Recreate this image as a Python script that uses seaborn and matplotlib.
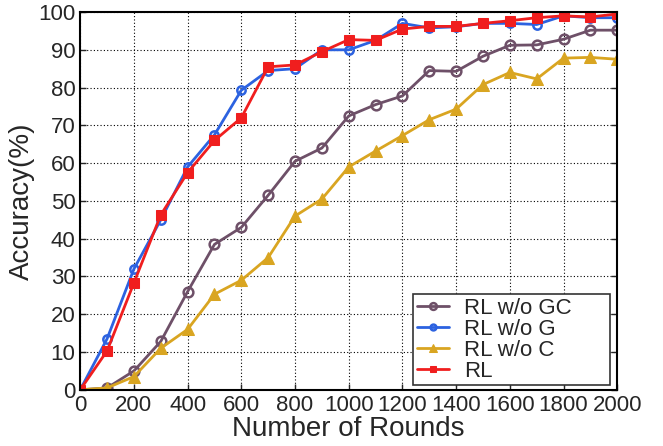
import matplotlib
matplotlib.use("Agg")
import matplotlib.pyplot as plt
import pandas as pd
import seaborn as sns

rounds = list(range(0, 2001, 100))
acc_wo_gc = [0, 0.5, 5, 12.8, 26, 38.5, 43, 51.5, 60.5, 64, 72.5, 75.5, 77.8, 84.5, 84.3, 88.3, 91.2, 91.3, 92.8, 95.2, 95.2]
acc_wo_g = [0, 13.5, 32, 45, 59, 67.5, 79.3, 84.5, 85, 90, 90, 92.5, 97, 95.8, 96.1, 97, 97, 96.7, 99, 98.5, 98.5]
acc_wo_c = [0, 0.5, 3.5, 11, 16, 25.3, 29, 35, 46, 50.5, 59, 63.2, 67.3, 71.5, 74.3, 80.8, 84, 82.3, 87.8, 88, 87.5]
acc_rl = [0, 10.3, 28.3, 46.3, 57.5, 66, 72, 85.5, 86, 89.5, 92.7, 92.5, 95.5, 96.2, 96.2, 97, 97.7, 98.5, 99, 98.7, 99.5]

series = [
    ("RL w/o GC", acc_wo_gc, "#6e5068", "o", dict(markerfacecolor="none", markersize=7, markeredgewidth=1.8)),
    ("RL w/o G", acc_wo_g, "#2c62e0", "o", dict(markerfacecolor="none", markersize=6, markeredgewidth=1.8)),
    ("RL w/o C", acc_wo_c, "#d9a521", "^", dict(markersize=8)),
    ("RL", acc_rl, "#f01e1e", "s", dict(markersize=7)),
]

sns.set_style("ticks")
plt.rcParams["font.family"] = ["Liberation Sans", "DejaVu Sans"]

fig = plt.figure(figsize=(6.63, 4.46), dpi=100)
ax = fig.add_axes([0.121, 0.126, 0.810, 0.847])

for name, vals, color, marker, kw in series:
    df = pd.DataFrame({"rounds": rounds, "acc": vals})
    sns.lineplot(data=df, x="rounds", y="acc", ax=ax, color=color, marker=marker,
                 linewidth=2, markeredgecolor=color, label=name, **kw)

ax.set_xlim(0, 2000)
ax.set_ylim(0, 100)
ax.set_xticks(range(0, 2001, 200))
ax.set_yticks(range(0, 101, 10))
ax.grid(True, color="black", linestyle=(0, (1, 2)), linewidth=0.8)
ax.tick_params(direction="in", labelsize=16, length=4, width=1, top=False, right=True)
for s in ax.spines.values():
    s.set_linewidth(1.5)
    s.set_color("black")
ax.set_xlabel("Number of Rounds", fontsize=20, labelpad=0)
ax.set_ylabel("Accuracy(%)", fontsize=20, labelpad=2)

leg = ax.legend(loc="lower left", bbox_to_anchor=(0.62, 0.013, 0.367, 0.24), mode="expand",
                fontsize=16, fancybox=False, framealpha=1, edgecolor="#333333",
                borderpad=0.15, labelspacing=0.0, handlelength=1.45, handletextpad=0.7,
                borderaxespad=0.0, markerscale=0.7)
leg.get_frame().set_linewidth(1.2)

fig.savefig("out.png", dpi=100)
